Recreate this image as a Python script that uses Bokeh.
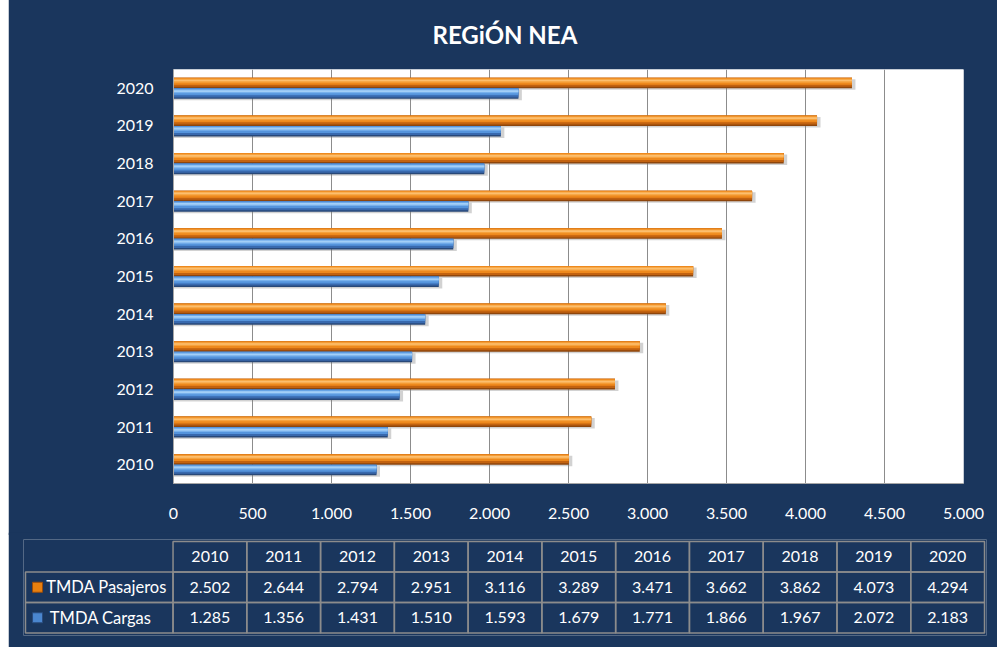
from bokeh.plotting import figure
from bokeh.models import ColumnDataSource, FactorRange, Range1d, FixedTicker
from bokeh.transform import dodge
from bokeh.core.properties import value
from bokeh.embed import file_html
from bokeh.resources import INLINE

# ---------------- data ----------------
title_text = "REGiÓN NEA"
years = ["2010", "2011", "2012", "2013", "2014", "2015", "2016", "2017", "2018", "2019", "2020"]
pasajeros = [2502, 2644, 2794, 2951, 3116, 3289, 3471, 3662, 3862, 4073, 4294]
cargas = [1285, 1356, 1431, 1510, 1593, 1679, 1771, 1866, 1967, 2072, 2183]
series_names = ["TMDA Pasajeros", "TMDA Cargas"]
x_ticks = [0, 500, 1000, 1500, 2000, 2500, 3000, 3500, 4000, 4500, 5000]
x_tick_labels = ["0", "500", "1.000", "1.500", "2.000", "2.500", "3.000", "3.500", "4.000", "4.500", "5.000"]

# ---------------- style ----------------
NAVY = "#1A365D"
GRID = "#8C8C8C"
FONT = "Lato"
WHITE = "#FFFFFF"

# gradient bands (top fraction, bottom fraction, colour) measured from top of bar
orange_bands = [(0.0, 1.0, "#8E460C"), (0.0, 0.86, "#C2620F"), (0.0, 0.66, "#EE891D"),
                (0.1, 0.46, "#F6A23D"), (0.18, 0.34, "#FCBE6E")]
blue_bands = [(0.0, 1.0, "#284878"), (0.0, 0.86, "#3869AE"), (0.0, 0.66, "#5594DC"),
              (0.1, 0.46, "#78B1EC"), (0.18, 0.34, "#A3CFF7")]

BAR_H = 0.28
OFF = 0.14

def fmt(v):
    return f"{v:,}".replace(",", ".")

# ---------------- chart figure ----------------
src = ColumnDataSource(dict(year=years, pas=pasajeros, car=cargas,
                            pas_sh=[v + 22 for v in pasajeros], car_sh=[v + 22 for v in cargas]))

p = figure(width=989, height=538, y_range=FactorRange(*years), x_range=Range1d(0, 5000),
           output_backend="svg", toolbar_location=None,
           min_border_left=165, min_border_right=34, min_border_top=72, min_border_bottom=52)
p.margin = (-3, 0, 0, 8)
p.border_fill_color = NAVY
p.background_fill_color = WHITE
p.outline_line_color = None

p.title.text = title_text
p.title.align = "left"
p.title.offset = 259
p.title.text_font = FONT
p.title.text_font_size = "24px"
p.title.text_font_style = "bold"
p.title.text_color = WHITE
p.title.standoff = 41

for field, sh, center, bands in [("pas", "pas_sh", OFF, orange_bands), ("car", "car_sh", -OFF, blue_bands)]:
    # soft shadow
    p.hbar(y=dodge("year", center - 0.04, range=p.y_range), right=sh, left=0, height=BAR_H,
           fill_color="#7F7F7F", fill_alpha=0.35, line_color=None, source=src)
    for ft, fb, col in bands:
        c = center + BAR_H * (0.5 - (ft + fb) / 2)
        p.hbar(y=dodge("year", c, range=p.y_range), right=field, left=0,
               height=BAR_H * (fb - ft), fill_color=col, line_color=None, source=src)

p.xaxis.ticker = FixedTicker(ticks=x_ticks)
p.xaxis.major_label_overrides = {t: l for t, l in zip(x_ticks, x_tick_labels)}
p.xgrid.ticker = FixedTicker(ticks=x_ticks)
p.xgrid.grid_line_color = GRID
p.ygrid.grid_line_color = None

for ax in (p.xaxis, p.yaxis):
    ax.major_label_text_color = WHITE
    ax.major_label_text_font = FONT
    ax.major_label_text_font_size = "16px"
    ax.major_tick_line_color = None
    ax.minor_tick_line_color = None
    ax.major_tick_out = 0
    ax.major_tick_in = 0
    ax.axis_line_color = "#A6A6A6"
p.xaxis.major_label_standoff = 24
p.yaxis.major_label_standoff = 20

# ---------------- data table figure ----------------
ncol = len(years)
t = figure(width=989, height=115, x_range=Range1d(-2.027, 11.027), y_range=Range1d(-0.082, 3.066),
           output_backend="svg", toolbar_location=None, x_axis_location=None, y_axis_location=None,
           min_border_left=15, min_border_right=11, min_border_top=7, min_border_bottom=12)
t.margin = (-3, 0, 0, 8)
t.border_fill_color = NAVY
t.background_fill_color = NAVY
t.outline_line_color = None
t.xgrid.grid_line_color = None
t.ygrid.grid_line_color = None

# cells: header row (y 2..3), pasajeros row (1..2), cargas row (0..1)
cell_left, cell_right, cell_bottom, cell_top = [], [], [], []
for row in range(3):
    for i in range(ncol):
        cell_left.append(i); cell_right.append(i + 1)
        cell_bottom.append(row); cell_top.append(row + 1)
for row in range(2):
    cell_left.append(-2); cell_right.append(0)
    cell_bottom.append(row); cell_top.append(row + 1)
t.quad(left=cell_left, right=cell_right, bottom=cell_bottom, top=cell_top,
       fill_color=None, line_color=GRID, line_width=1.5)

txt_x, txt_y, txt = [], [], []
for i, yv in enumerate(years):
    txt_x.append(i + 0.5); txt_y.append(2.5); txt.append(yv)
for i, v in enumerate(pasajeros):
    txt_x.append(i + 0.5); txt_y.append(1.5); txt.append(fmt(v))
for i, v in enumerate(cargas):
    txt_x.append(i + 0.5); txt_y.append(0.5); txt.append(fmt(v))
t.text(x=txt_x, y=txt_y, text=txt, text_align="center", text_baseline="middle",
       text_font=value(FONT), text_font_size="16px", text_color=WHITE)

# legend keys in the table
t.text(x=[-1.72, -1.67], y=[1.5, 0.5], text=series_names, text_align="left", text_baseline="middle",
       text_font=value(FONT), text_font_size="16.5px", text_color=WHITE)
t.scatter(x=[-1.837, -1.837], y=[1.5, 0.5], marker="square", size=10,
          fill_color=["#E8800F", "#4A86CF"], line_color=["#9A4C0C", "#2A4C7E"], line_width=1)

open("out.html", "w").write(file_html([p, t], INLINE))
